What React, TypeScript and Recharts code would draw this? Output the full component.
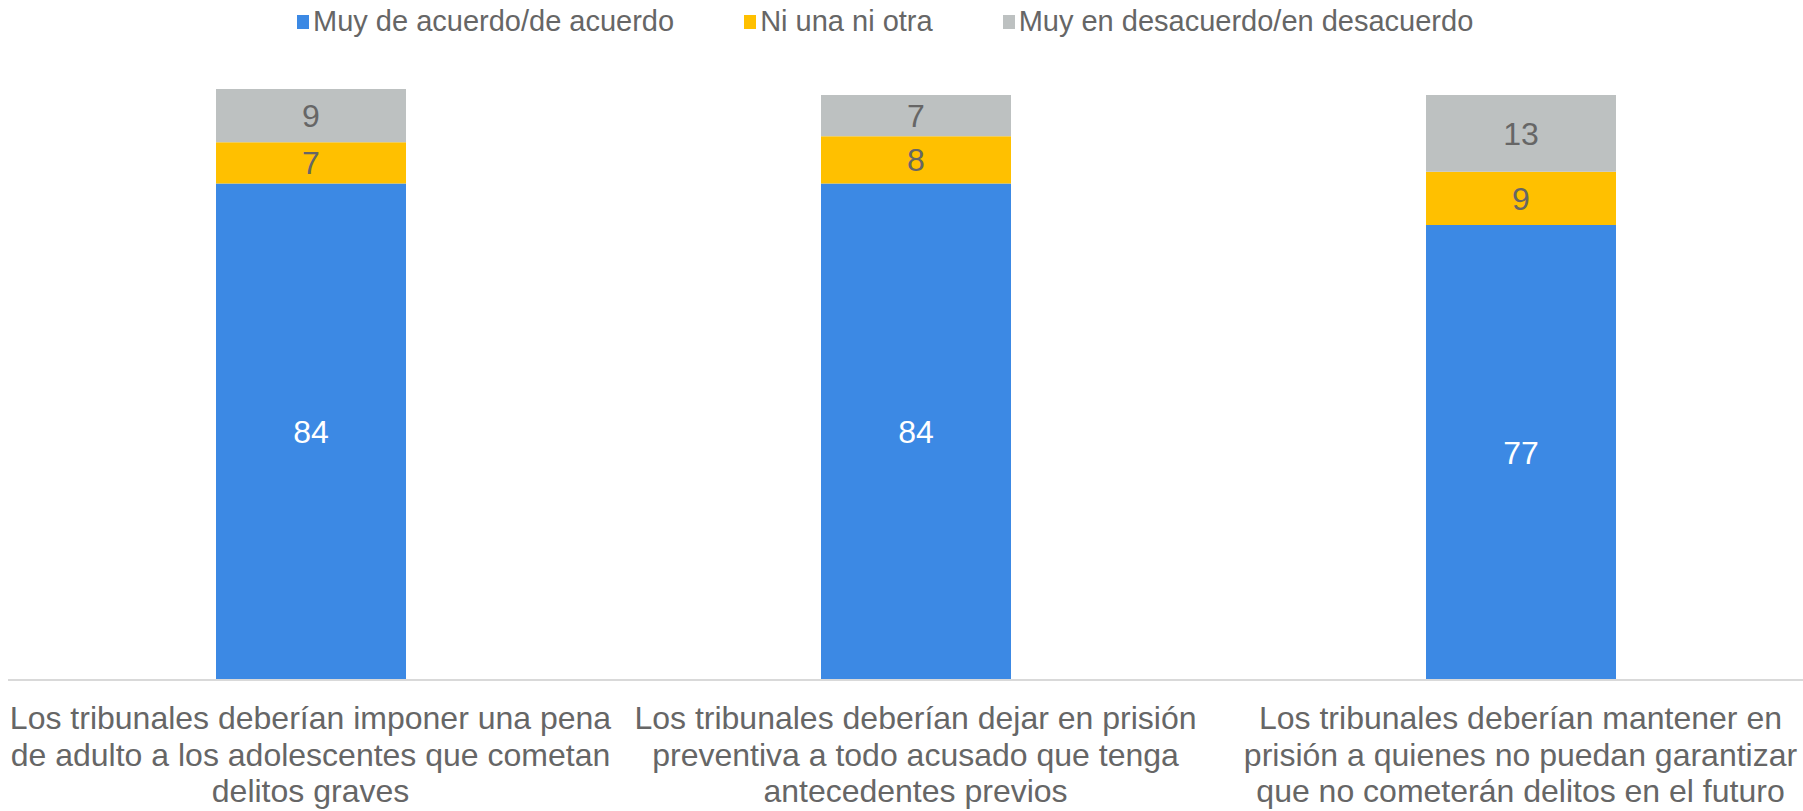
import React from "react";
import { BarChart, Bar, XAxis, YAxis, Legend, LabelList } from "recharts";

const categories = [
  "Los tribunales deberían imponer una pena de adulto a los adolescentes que cometan delitos graves",
  "Los tribunales deberían dejar en prisión preventiva a todo acusado que tenga antecedentes previos",
  "Los tribunales deberían mantener en prisión a quienes no puedan garantizar que no cometerán delitos en el futuro",
];
const categoryLines = [
  ["Los tribunales deberían imponer una pena", "de adulto a los adolescentes que cometan", "delitos graves"],
  ["Los tribunales deberían dejar en prisión", "preventiva a todo acusado que tenga", "antecedentes previos"],
  ["Los tribunales deberían mantener en", "prisión a quienes no puedan garantizar", "que no cometerán delitos en el futuro"],
];
const acuerdo = [84, 84, 77];
const niUnaNiOtra = [7, 8, 9];
const desacuerdo = [9, 7, 13];
const seriesNames = ["Muy de acuerdo/de acuerdo", "Ni una ni otra", "Muy en desacuerdo/en desacuerdo"];
const seriesColors = ["#3C89E4", "#FFC000", "#BDC1C1"];

const data = categories.map((c, i) => ({
  name: c,
  idx: i,
  a: acuerdo[i],
  n: niUnaNiOtra[i],
  d: desacuerdo[i],
}));

const FONT = "'Liberation Sans', Arial, sans-serif";
const GRAY_TEXT = "#666666";

const CategoryTick = (props: any) => {
  const { x, index } = props;
  const base = 680;
  const lines = categoryLines[index] || [];
  return (
    <text x={x} y={base} textAnchor="middle" fontFamily={FONT} fontSize={32} fill={GRAY_TEXT}>
      {lines.map((l: string, i: number) => (
        <tspan key={i} x={x} y={base + 49 + i * 36.5}>
          {l}
        </tspan>
      ))}
    </text>
  );
};

const LegendContent = () => (
  <div style={{ display: "flex", alignItems: "center", fontFamily: FONT, fontSize: 29, color: GRAY_TEXT, whiteSpace: "nowrap" }}>
    {seriesNames.map((n, i) => (
      <div key={n} style={{ display: "flex", alignItems: "center", marginRight: i < 2 ? 70 : 0 }}>
        <div style={{ width: 12, height: 14, background: seriesColors[i], marginRight: 4 }} />
        <span>{n}</span>
      </div>
    ))}
  </div>
);

export default function App() {
  return (
    <div style={{ position: "fixed", left: 0, top: 0, width: 1803, height: 811, overflow: "hidden", background: "#fff" }}>
      <BarChart width={1830} height={811} data={data} margin={{ top: 89, right: 7, bottom: 0, left: 8 }}>
        <XAxis
          dataKey="name"
          height={131}
          tickLine={false}
          tickSize={0}
          tickMargin={0}
          axisLine={{ stroke: "#D9D9D9", strokeWidth: 2 }}
          tick={<CategoryTick />}
          interval={0}
        />
        <YAxis hide domain={[0, 100]} />
        <Legend
          verticalAlign="top"
          content={<LegendContent />}
          wrapperStyle={{ position: "absolute", top: 5, left: 297, width: 1300, height: 0, overflow: "visible" }}
        />
        <Bar dataKey="a" stackId="s" fill={seriesColors[0]} barSize={190} isAnimationActive={false}>
          <LabelList dataKey="a" position="center" fill="#FFFFFF" fontSize={32} fontFamily={FONT} />
        </Bar>
        <Bar dataKey="n" stackId="s" fill={seriesColors[1]} barSize={190} isAnimationActive={false}>
          <LabelList dataKey="n" position="center" fill={GRAY_TEXT} fontSize={32} fontFamily={FONT} />
        </Bar>
        <Bar dataKey="d" stackId="s" fill={seriesColors[2]} barSize={190} isAnimationActive={false}>
          <LabelList dataKey="d" position="center" fill={GRAY_TEXT} fontSize={32} fontFamily={FONT} />
        </Bar>
      </BarChart>
    </div>
  );
}
